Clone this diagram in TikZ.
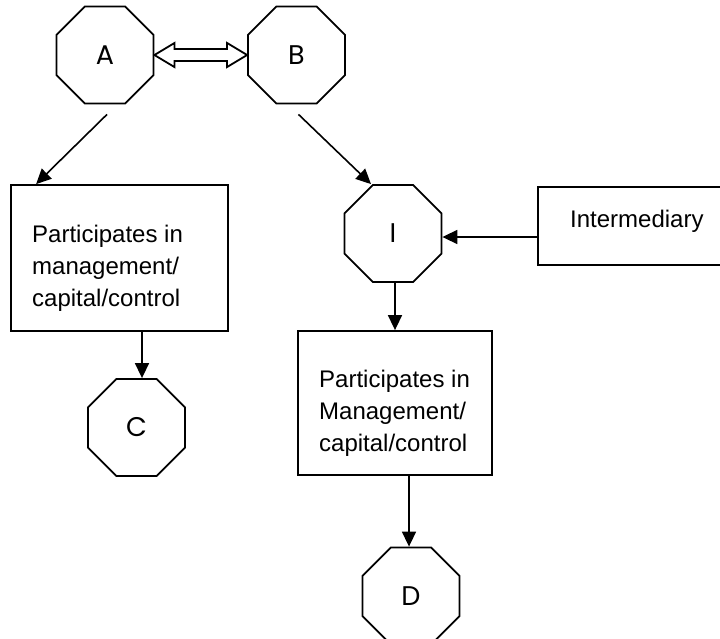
\documentclass[tikz,border=0pt]{standalone}
\usepackage{fontspec}
\setmainfont{Liberation Sans}
\newfontfamily\geofont{Poppins}
\usetikzlibrary{shapes.geometric,arrows.meta,calc}
\begin{document}
\begin{tikzpicture}[x=1pt,y=-1pt,
  oct/.style={draw, line width=1.8pt, regular polygon, regular polygon sides=8, minimum size=105pt, inner sep=0pt, font=\geofont\fontsize{27}{30}\selectfont},
  box/.style={draw, line width=1.8pt, rectangle, inner sep=0pt},
  txt/.style={align=left, inner sep=0pt, font=\fontsize{24}{32}\selectfont},
  arr/.style={line width=1.6pt, -{Triangle[length=15pt,width=14pt]}}]
\useasboundingbox (0,0) rectangle (720,638);
\node[oct] (A) at (105,55) {A};
\node[oct] (B) at (296.5,55) {B};
\node[box, minimum width=217pt, minimum height=146pt] (P1) at (119.5,258) {};
\node[txt, anchor=north west] (T1) at (32,225) {Participates in\\management/\\capital/control};
\node[oct] (C) at (136.5,427.5) {C};
\node[oct] (I) at (393,233.5) {I};
\node[box, minimum width=186pt, minimum height=78pt] (IM) at (631,226) {};
\node[txt, anchor=base west] (T3) at (570,227) {Intermediary};
\node[box, minimum width=194pt, minimum height=144pt] (P2) at (395,403) {};
\node[txt, anchor=north west] (T2) at (319,370) {Participates in\\Management/\\capital/control};
\node[oct] (D) at (411,596) {D};
\draw[line width=1.8pt, line join=miter] (A.east) -- ++(20,-12) -- ++(0,6) -- ($(B.west)+(-20,-6)$) -- ++(0,-6) -- (B.west) -- ++(-20,12) -- ++(0,-6) -- ($(A.east)+(20,6)$) -- ++(0,6) -- cycle;
\draw[arr] ($(A.south)+(2,10)$) -- ($(P1.north west)+(26,0)$);
\draw[arr] ($(B.south)+(2,10)$) -- ($(I.north)+(-22,0)$);
\draw[arr] ($(P1.south)+(22.5,0)$) -- ($(C.north)+(5.5,0)$);
\draw[arr] ($(I.south)+(2,0)$) -- (P2.north);
\draw[arr] ($(P2.south)+(14,0)$) -- ($(D.north)+(-2,0)$);
\draw[arr] ($(IM.west)+(0,11)$) -- ($(I.east)+(0,3.5)$);
\end{tikzpicture}
\end{document}
